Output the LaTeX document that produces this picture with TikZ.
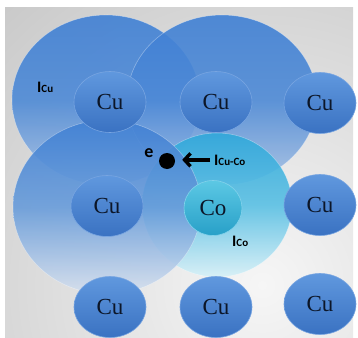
\documentclass[tikz,border=0pt]{standalone}
\usepackage{fontspec}
\setmainfont{Liberation Serif}
\newfontfamily\labelfont{Carlito}
\usetikzlibrary{shapes.geometric,arrows.meta,positioning}

\definecolor{bggray}{RGB}{176,176,176}
\definecolor{bglight}{RGB}{246,246,246}
\definecolor{cutop}{RGB}{96,152,222}
\definecolor{cubot}{RGB}{58,114,194}
\definecolor{cuedge}{RGB}{120,165,225}
\definecolor{cotop}{RGB}{92,200,228}
\definecolor{cobot}{RGB}{40,160,200}
\definecolor{coedge}{RGB}{130,210,235}
\definecolor{cloudtop}{RGB}{64,128,212}
\definecolor{cloudmid}{RGB}{78,138,214}
\definecolor{cloudbot}{RGB}{168,194,228}
\definecolor{lowmid}{RGB}{104,156,218}
\definecolor{lowbot}{RGB}{214,224,238}
\definecolor{cyantop}{RGB}{48,168,218}
\definecolor{cyanmid}{RGB}{90,192,228}
\definecolor{cyanbot}{RGB}{214,240,247}
\definecolor{atomtext}{RGB}{12,22,40}

\newcommand{\ilab}[1]{{\fontsize{16}{16}\selectfont I}{\fontsize{11}{11}\selectfont #1}}

\begin{document}
\begin{tikzpicture}[x=1pt, y=-1pt,
        atom/.style={ellipse, minimum width=72pt, minimum height=61pt, inner sep=0pt,
                     top color=cutop, bottom color=cubot, draw=cuedge, line width=0.6pt,
                     text=atomtext, font=\fontsize{23}{23}\selectfont},
        coatom/.style={atom, minimum width=58pt, minimum height=55pt,
                     top color=cotop, bottom color=cobot, draw=coedge},
        cloud/.style={fill opacity=0.9, draw=white, draw opacity=0.35, line width=0.6pt},
        lbl/.style={inner sep=0pt, text=black, font=\labelfont\bfseries},
        arr/.style={-{Straight Barb[length=6pt,width=13pt]}, line width=3.4pt}]
    \useasboundingbox (0,0) rectangle (358,337);
    % background panel
    \fill[bggray] (5,8) rectangle (353,337);
    \begin{scope}
        \clip (5,8) rectangle (353,337);
        \shade[inner color=bglight, outer color=bggray] (262,285) circle (600pt);
    \end{scope}
    % interaction ranges
    \shade[cloud, top color=cloudtop, bottom color=cloudbot, middle color=cloudmid]
        (106,100) ellipse [x radius=94pt, y radius=85pt];
    \shade[cloud, top color=cloudtop, bottom color=cloudbot, middle color=cloudmid]
        (222,100) ellipse [x radius=95pt, y radius=85pt];
    \shade[cloud, top color=cyantop, bottom color=cyanbot, middle color=cyanmid]
        (217,205) ellipse [x radius=75pt, y radius=72pt];
    \shade[cloud, top color=cloudtop, bottom color=lowbot, middle color=lowmid]
        (107,207) ellipse [x radius=94pt, y radius=87pt];
    % atoms
    \node[atom] (cua) at (110,102) {Cu};
    \node[atom] (cub) at (216,102) {Cu};
    \node[atom] (cuc) at (320,103) {Cu};
    \node[atom] (cud) at (107,206) {Cu};
    \node[coatom] (co) at (213,208) {Co};
    \node[atom] (cue) at (320,205) {Cu};
    \node[atom] (cuf) at (110,307) {Cu};
    \node[atom] (cug) at (216,307) {Cu};
    \node[atom] (cuh) at (320,304) {Cu};
    % electron and labels
    \node[circle, fill=black, minimum size=16pt, inner sep=0pt] (elec) at (167,161) {};
    \node[lbl, anchor=base, font=\labelfont\bfseries\fontsize{18}{18}\selectfont] (elab) at (149,157) {e};
    \node[lbl, anchor=base west] (icu) at (37,92) {\ilab{Cu}};
    \node[lbl, anchor=base west] (icuco) at (214,165) {\ilab{Cu-Co}};
    \node[lbl, anchor=base west] (ico) at (232,246) {\ilab{Co}};
    \draw[arr, shorten <=4pt, shorten >=7pt] (icuco.west) -- (icuco.west -| elec.east);
\end{tikzpicture}
\end{document}
